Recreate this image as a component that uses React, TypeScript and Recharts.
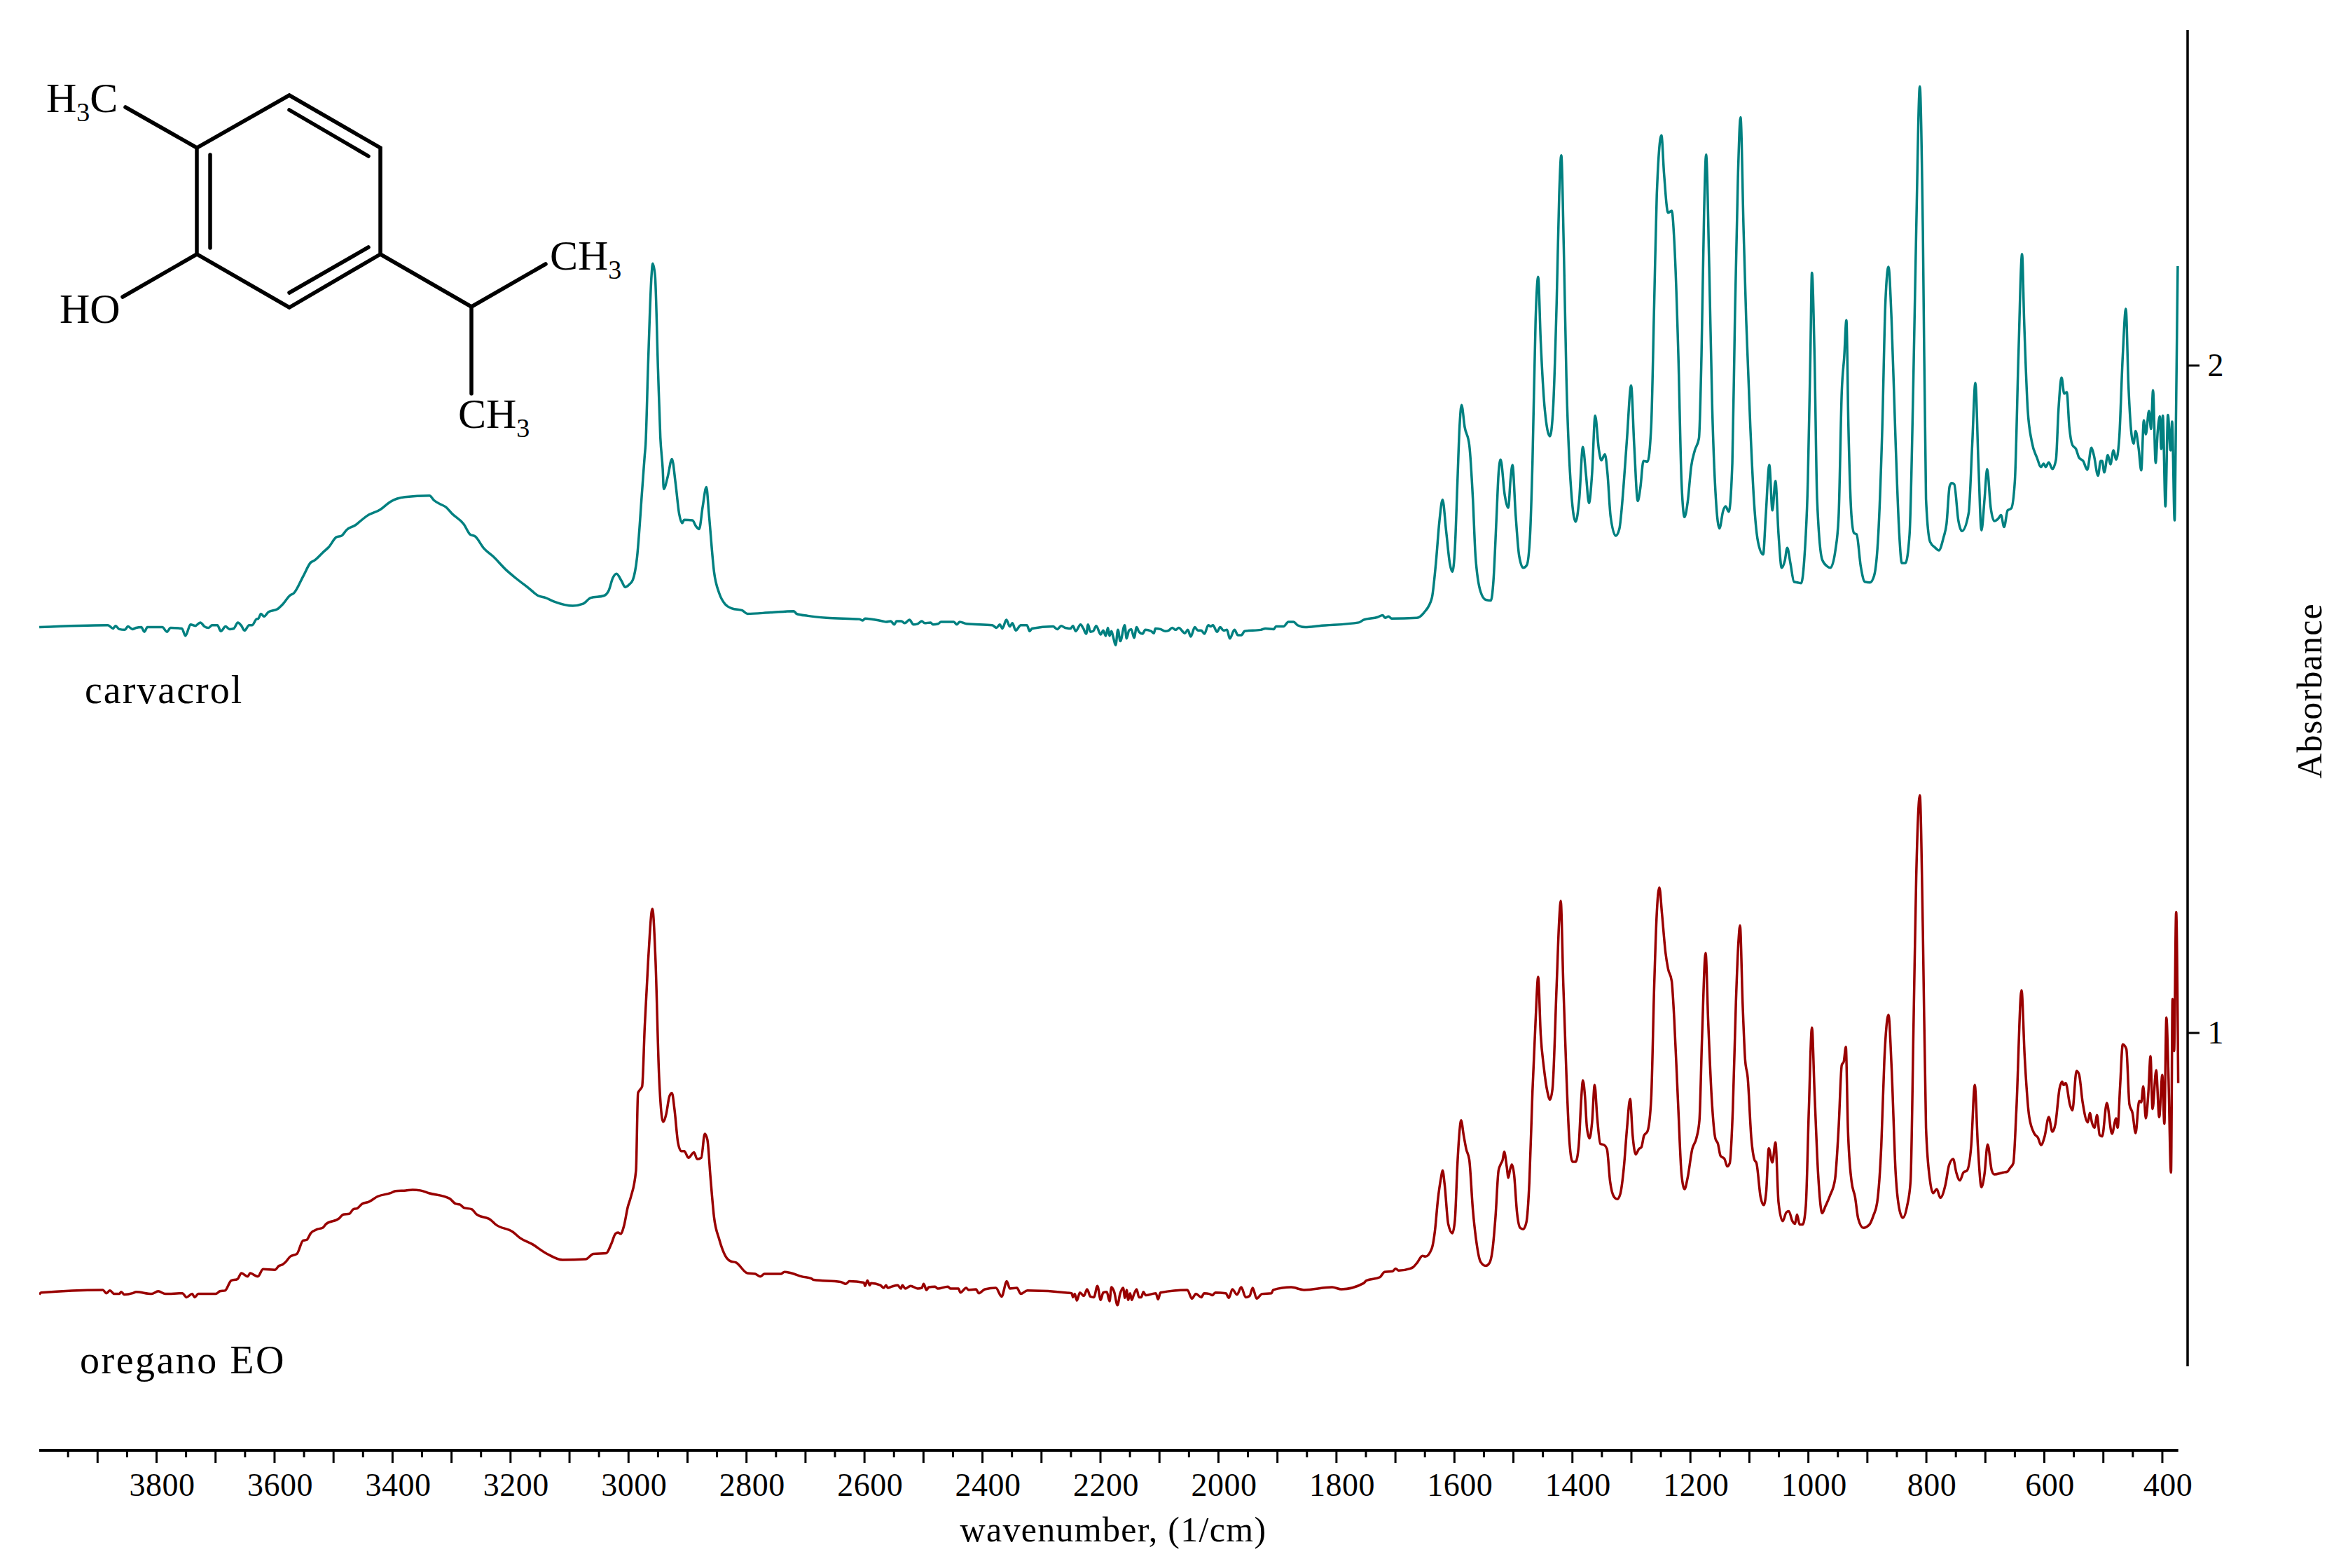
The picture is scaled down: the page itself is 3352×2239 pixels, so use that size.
import { LineChart, Line, XAxis, YAxis, ReferenceLine } from "recharts";

type Pt = [number, number];

// [wavenumber, absorbance]
const carvacrol: Pt[] = [
  [3998.8,1.608],[3882.5,1.611],[3873.8,1.606],[3869.5,1.610],[3863.4,1.605],[3853.8,1.604],[3848.6,1.609],[3840.7,1.605],
  [3834.6,1.607],[3825.9,1.608],[3820.7,1.601],[3815.5,1.608],[3790.2,1.608],[3782.4,1.601],[3776.3,1.607],[3757.1,1.606],
  [3751,1.595],[3742.4,1.612],[3734.5,1.610],[3725.8,1.615],[3718.8,1.609],[3711.9,1.607],[3705.8,1.611],[3697,1.611],
  [3691,1.602],[3683.1,1.609],[3676.2,1.605],[3669.2,1.606],[3662.2,1.615],[3656.1,1.610],[3650.9,1.603],[3643.1,1.611],
  [3637.8,1.611],[3630.9,1.620],[3627.4,1.621],[3623,1.628],[3617.8,1.624],[3610,1.631],[3595.2,1.635],[3586.5,1.642],
  [3573.4,1.656],[3567.3,1.659],[3551.6,1.684],[3538.6,1.705],[3532.5,1.708],[3516.8,1.721],[3508.1,1.728],[3495,1.743],
  [3486.3,1.745],[3477.6,1.754],[3462.8,1.761],[3453.2,1.768],[3442.8,1.775],[3421,1.784],[3403.6,1.796],[3379.2,1.803],
  [3337.4,1.805],[3329.6,1.798],[3318.3,1.792],[3309.5,1.788],[3299.1,1.778],[3279,1.762],[3268.6,1.747],[3260,1.744],
  [3245.1,1.726],[3229.4,1.714],[3207.7,1.694],[3190.3,1.681],[3168.5,1.666],[3152.8,1.655],[3140.6,1.652],[3125,1.646],
  [3094.5,1.640],[3077,1.643],[3064,1.652],[3042.2,1.655],[3033.5,1.663],[3026.5,1.682],[3020.4,1.688],[3011.7,1.677],
  [3005.6,1.668],[2998.7,1.672],[2992.6,1.679],[2985.6,1.712],[2976.9,1.813],[2972.5,1.866],[2971,1.882],[2967,1.995],
  [2961,2.135],[2959,2.153],[2955,2.135],[2950,1.995],[2946,1.892],[2942,1.845],[2940.3,1.815],[2933.4,1.834],
  [2926.4,1.860],[2920.3,1.824],[2914.2,1.778],[2909,1.764],[2905.5,1.769],[2891.6,1.768],[2885.5,1.759],[2880.3,1.755],
  [2874.2,1.789],[2868,1.818],[2863.7,1.778],[2855,1.691],[2846.3,1.659],[2835.8,1.642],[2824.5,1.636],[2807.1,1.633],
  [2798.4,1.628],[2759.3,1.630],[2719.7,1.632],[2715,1.628],[2696,1.625],[2664.3,1.622],[2608.9,1.620],[2603,1.618],
  [2599,1.621],[2569.3,1.617],[2563.4,1.616],[2555.5,1.617],[2549.5,1.612],[2545.6,1.617],[2537.7,1.617],[2531.7,1.614],
  [2523.8,1.619],[2517,1.612],[2510,1.613],[2502.8,1.617],[2498,1.614],[2488,1.615],[2484.2,1.612],[2475.1,1.613],
  [2470.4,1.616],[2448.6,1.616],[2443.4,1.612],[2438.7,1.616],[2426.8,1.613],[2383.3,1.611],[2376.2,1.607],[2370.6,1.612],
  [2366.3,1.606],[2359.5,1.619],[2353.6,1.609],[2349.3,1.614],[2343.7,1.603],[2335,1.611],[2324.7,1.611],[2320,1.602],
  [2316,1.606],[2280.4,1.609],[2273.3,1.605],[2266.5,1.610],[2259.8,1.607],[2250.7,1.606],[2246.7,1.610],[2242,1.602],
  [2233.7,1.612],[2229,1.606],[2224.2,1.598],[2221,1.612],[2217.1,1.601],[2212.3,1.602],[2207.2,1.610],[2199.6,1.597],
  [2195.3,1.603],[2191,1.595],[2187.4,1.607],[2184.6,1.595],[2181.4,1.602],[2178.3,1.593],[2174.3,1.581],[2170.4,1.604],
  [2166.4,1.587],[2158.9,1.611],[2155.7,1.591],[2151.7,1.603],[2147.8,1.605],[2143,1.592],[2138.7,1.608],[2134.7,1.601],
  [2128.8,1.598],[2124,1.604],[2114.1,1.602],[2109.4,1.599],[2107,1.606],[2098.3,1.605],[2090.4,1.602],[2084.5,1.603],
  [2078.5,1.607],[2072.6,1.604],[2067.4,1.607],[2056.8,1.599],[2052,1.604],[2046.9,1.594],[2040.1,1.608],[2035,1.603],
  [2029,1.603],[2023.9,1.598],[2017.2,1.611],[2013.2,1.609],[2009.3,1.611],[2002.5,1.601],[1997,1.608],[1991.4,1.603],
  [1985.5,1.604],[1980.8,1.591],[1972.8,1.604],[1966.9,1.596],[1961,1.596],[1955.8,1.602],[1928.1,1.604],[1920.2,1.606],
  [1906.4,1.605],[1902.4,1.609],[1889.7,1.609],[1881.4,1.616],[1872.7,1.616],[1866,1.611],[1852.9,1.608],[1829.2,1.610],
  [1762,1.615],[1754,1.619],[1730.2,1.623],[1721.5,1.626],[1717.6,1.622],[1711.6,1.624],[1706.5,1.621],[1663.7,1.622],
  [1651.4,1.630],[1638.4,1.651],[1631.4,1.704],[1625.3,1.768],[1620.1,1.799],[1614,1.752],[1607.9,1.704],[1603.5,1.691],
  [1599.2,1.725],[1594.8,1.827],[1591.3,1.908],[1587.9,1.941],[1582.6,1.908],[1574.8,1.881],[1568.7,1.800],[1564.3,1.715],
  [1555.6,1.661],[1546.9,1.649],[1538.2,1.648],[1533.9,1.677],[1528.6,1.774],[1525.2,1.838],[1521.7,1.859],[1514.7,1.806],
  [1508.6,1.787],[1505.1,1.827],[1501.6,1.851],[1496.4,1.779],[1490.3,1.715],[1483.4,1.697],[1477.3,1.701],[1472,1.742],
  [1467.7,1.854],[1462.4,2.068],[1458.1,2.133],[1453.7,2.036],[1446.8,1.934],[1438.1,1.894],[1432.8,1.934],[1426.7,2.095],
  [1422.4,2.255],[1418.9,2.315],[1414.6,2.175],[1410.2,1.982],[1403.2,1.827],[1394.5,1.766],[1388.4,1.800],[1382.3,1.878],
  [1377.1,1.838],[1371.9,1.794],[1366.7,1.838],[1361.4,1.925],[1355.3,1.875],[1351,1.858],[1344.9,1.867],[1340.5,1.838],
  [1335.3,1.774],[1326.6,1.745],[1320.5,1.755],[1313.5,1.817],[1307.4,1.892],[1300.5,1.970],[1295.3,1.881],[1289.2,1.797],
  [1284.8,1.817],[1279.6,1.857],[1272.6,1.856],[1266.5,1.908],[1261.3,2.095],[1257,2.255],[1249.1,2.345],[1244.7,2.288],
  [1237.8,2.229],[1231.7,2.232],[1227.3,2.186],[1220.4,2.015],[1215.1,1.827],[1209.9,1.773],[1204.7,1.795],[1198.6,1.849],
  [1192.5,1.873],[1185.5,1.891],[1181.2,2.015],[1176.8,2.229],[1173.4,2.316],[1168.1,2.148],[1162.9,1.934],[1156.8,1.800],
  [1150.7,1.756],[1144.6,1.782],[1140.3,1.789],[1135,1.781],[1128.9,1.854],[1124.6,2.068],[1119.4,2.282],[1115,2.372],
  [1109.8,2.202],[1105.4,2.068],[1098.4,1.908],[1092.4,1.800],[1085.4,1.736],[1076.7,1.717],[1072.3,1.774],[1066.2,1.851],
  [1061,1.783],[1055.8,1.827],[1050.6,1.747],[1045.3,1.697],[1040.1,1.707],[1035.8,1.727],[1030.5,1.704],[1024.4,1.676],
  [1018.3,1.675],[1012.2,1.674],[1007,1.709],[1000.9,1.827],[996.6,2.015],[994,2.139],[989.6,2.015],[985.2,1.800],
  [976.5,1.709],[967.8,1.699],[962.6,1.697],[953.9,1.725],[948.7,1.774],[943.4,1.961],[939.1,2.015],[935.6,2.068],
  [932.1,1.908],[926.9,1.774],[922.6,1.749],[918.2,1.747],[911.2,1.699],[904.3,1.676],[895.6,1.675],[888.6,1.685],
  [880.8,1.758],[874.7,1.908],[869.4,2.095],[864.2,2.148],[859,2.068],[852,1.881],[845.9,1.747],[841.6,1.704],
  [835.5,1.704],[828.5,1.747],[822.4,1.961],[817.2,2.202],[811.1,2.418],[805.9,2.202],[800.6,1.800],[793.7,1.736],
  [785,1.727],[778.9,1.723],[771,1.742],[765.8,1.763],[760.6,1.819],[757.1,1.824],[752.7,1.822],[745.8,1.768],
  [739.7,1.752],[728.3,1.779],[722.3,1.881],[717,1.974],[711.8,1.854],[706.6,1.753],[701.4,1.800],[697,1.845],
  [690.9,1.787],[684.8,1.767],[677.9,1.771],[673.5,1.776],[668.3,1.758],[662.2,1.783],[656.1,1.786],[650,1.827],
  [643.9,2.015],[637.8,2.167],[634.3,2.068],[628.2,1.934],[621.3,1.886],[612.6,1.862],[605.6,1.848],[601.2,1.853],
  [597.8,1.848],[592.5,1.855],[586.4,1.845],[580.3,1.859],[576,1.934],[570.8,1.982],[566.4,1.958],[562,1.960],
  [557.7,1.908],[552.5,1.881],[546.4,1.875],[541.2,1.862],[534.2,1.857],[527.2,1.844],[520.2,1.877],[515.9,1.865],
  [509,1.835],[504.6,1.857],[502,1.857],[498.5,1.840],[492.4,1.866],[488,1.852],[482.8,1.873],[478.4,1.859],
  [473.2,1.889],[467.1,2.015],[461.9,2.085],[457.5,1.972],[452.3,1.897],[448.8,1.883],[445.3,1.902],[440.1,1.875],
  [435.8,1.843],[431.4,1.918],[428,1.897],[422.7,1.932],[419.2,1.905],[415.8,1.963],[411.4,1.854],[407.9,1.901],
  [404.4,1.924],[401.8,1.875],[399.2,1.925],[394.8,1.789],[390.5,1.926],[386.1,1.873],[383.5,1.916],[379.2,1.768],
  [377.4,1.881],[373.9,2.149],
];

const oregano: Pt[] = [
  [3998.8,0.608],[3995.7,0.611],[3891.2,0.615],[3885.1,0.610],[3879,0.614],[3872,0.609],[3863.4,0.609],[3859.9,0.612],
  [3854.7,0.608],[3840.7,0.610],[3834.6,0.612],[3808.5,0.609],[3797.2,0.613],[3785,0.609],[3756.3,0.610],[3749.3,0.604],
  [3739.7,0.609],[3735.4,0.604],[3729.3,0.609],[3699.7,0.609],[3692.7,0.613],[3684,0.614],[3673.5,0.629],[3663.1,0.631],
  [3656.1,0.640],[3645.7,0.635],[3641.3,0.640],[3628.3,0.635],[3619.5,0.646],[3599.5,0.645],[3592.5,0.651],[3586.5,0.653],
  [3582.1,0.656],[3573.4,0.665],[3562.1,0.669],[3551.6,0.689],[3545.5,0.690],[3538.6,0.700],[3527.2,0.706],[3518.5,0.708],
  [3512.4,0.714],[3490.7,0.722],[3483.7,0.728],[3473.3,0.729],[3466.3,0.736],[3460.2,0.737],[3451.5,0.744],[3440.2,0.747],
  [3425.4,0.755],[3403.6,0.760],[3394.9,0.763],[3377.5,0.764],[3366.1,0.765],[3353.1,0.764],[3338.3,0.760],[3303.4,0.752],
  [3293,0.744],[3286,0.743],[3279,0.738],[3266,0.736],[3257.3,0.728],[3233.8,0.720],[3225.1,0.713],[3196.3,0.702],
  [3184.1,0.693],[3164.1,0.684],[3138,0.669],[3111.9,0.660],[3072.7,0.661],[3059.6,0.669],[3037.9,0.670],[3029.2,0.684],
  [3022.2,0.699],[3017.8,0.701],[3013.5,0.699],[3007.4,0.712],[3001.3,0.739],[2996.1,0.754],[2987.3,0.794],[2983.9,0.910],
  [2981.3,0.914],[2976.9,0.920],[2972.5,1.010],[2966.5,1.111],[2959.5,1.186],[2954.3,1.111],[2948.2,0.935],[2941.2,0.867],
  [2936,0.879],[2930.7,0.905],[2926.4,0.910],[2922,0.885],[2916,0.835],[2910.7,0.823],[2905.5,0.823],[2898.5,0.813],
  [2889,0.821],[2883.7,0.811],[2876.7,0.813],[2870.7,0.849],[2866.3,0.840],[2861.1,0.784],[2855,0.724],[2846.3,0.691],
  [2835.8,0.666],[2827.1,0.658],[2817.6,0.656],[2798.4,0.640],[2785.3,0.639],[2776.6,0.635],[2769.6,0.639],[2741.8,0.639],
  [2735.7,0.642],[2723.7,0.640],[2705.9,0.635],[2690,0.632],[2686.1,0.630],[2640.6,0.627],[2631.5,0.624],[2625.5,0.628],
  [2601,0.626],[2599,0.621],[2595,0.629],[2591.1,0.622],[2589.1,0.625],[2573.3,0.622],[2567.3,0.618],[2563.4,0.622],
  [2560.6,0.618],[2553.5,0.620],[2543.6,0.622],[2538.4,0.617],[2535.7,0.622],[2530.9,0.617],[2521.8,0.621],[2510,0.617],
  [2502.8,0.618],[2499.7,0.624],[2494.9,0.615],[2491,0.619],[2480.3,0.620],[2476,0.617],[2458.5,0.620],[2454.5,0.617],
  [2440.7,0.617],[2437.5,0.611],[2427.6,0.618],[2423.7,0.615],[2411,0.616],[2406.2,0.610],[2395.9,0.616],[2377.3,0.618],
  [2367.5,0.605],[2358.8,0.628],[2353.6,0.617],[2341.7,0.618],[2335,0.609],[2323.9,0.614],[2248.7,0.610],[2246.7,0.604],
  [2243.6,0.609],[2240,0.599],[2234.9,0.611],[2228.1,0.606],[2222.6,0.616],[2217.1,0.605],[2211.1,0.604],[2205.2,0.621],
  [2199.6,0.600],[2195.3,0.611],[2189.3,0.612],[2184.6,0.598],[2181.4,0.619],[2176.7,0.612],[2171.2,0.592],[2166.8,0.609],
  [2161.6,0.618],[2158.5,0.603],[2155.7,0.615],[2152.9,0.600],[2149.8,0.610],[2147,0.600],[2143.8,0.607],[2138.7,0.616],
  [2134.7,0.604],[2130.8,0.604],[2127.2,0.612],[2123.2,0.607],[2106.2,0.610],[2102.3,0.601],[2098.3,0.611],[2052.8,0.615],
  [2044.9,0.602],[2038.2,0.609],[2029,0.604],[2024.3,0.610],[2015.2,0.609],[2010.4,0.607],[2005.3,0.611],[1987.5,0.610],
  [1982.3,0.603],[1976.4,0.616],[1968.5,0.608],[1961.4,0.619],[1953.8,0.604],[1947.1,0.606],[1942,0.618],[1935.2,0.602],
  [1926.1,0.609],[1910.3,0.610],[1907.1,0.615],[1876.7,0.619],[1854.9,0.615],[1807.4,0.619],[1791.6,0.616],[1754,0.625],
  [1749.2,0.629],[1726.3,0.634],[1718.4,0.642],[1704.5,0.643],[1699.8,0.647],[1694.6,0.644],[1674.8,0.647],[1670.1,0.649],
  [1662.9,0.656],[1654.2,0.666],[1649.1,0.665],[1638.4,0.677],[1633.1,0.703],[1627.9,0.751],[1622.7,0.783],[1620.1,0.794],
  [1616.6,0.773],[1610.5,0.714],[1603.5,0.700],[1599.2,0.719],[1594.8,0.805],[1591.3,0.853],[1588.7,0.869],[1584.4,0.847],
  [1580,0.826],[1574.8,0.810],[1568.7,0.735],[1563.5,0.692],[1555.6,0.657],[1546.9,0.651],[1540.8,0.655],[1535.6,0.674],
  [1530.4,0.724],[1525.2,0.794],[1521.7,0.803],[1518.2,0.810],[1515.6,0.822],[1511.2,0.799],[1508.6,0.783],[1506,0.794],
  [1502.5,0.803],[1499,0.789],[1493.8,0.730],[1488.6,0.708],[1483.4,0.706],[1478.1,0.716],[1472.9,0.778],[1467.7,0.912],
  [1462.4,1.019],[1458.1,1.084],[1453.7,0.997],[1448.5,0.949],[1442.4,0.912],[1438.1,0.900],[1433.7,0.917],[1426.7,1.072],
  [1422.4,1.169],[1419.8,1.198],[1415.4,1.072],[1410.2,0.938],[1405,0.837],[1399.8,0.807],[1394.5,0.807],[1389.3,0.831],
  [1385,0.901],[1382.3,0.929],[1378.8,0.906],[1375.4,0.858],[1371,0.842],[1366.7,0.866],[1362.3,0.922],[1358,0.874],
  [1352.7,0.834],[1345.8,0.832],[1341.4,0.826],[1336.2,0.778],[1329.2,0.754],[1324,0.751],[1318.8,0.759],[1312.7,0.799],
  [1307.4,0.858],[1302.2,0.901],[1297.9,0.847],[1292.6,0.818],[1287.4,0.826],[1283,0.829],[1278.7,0.846],[1272.6,0.853],
  [1266.5,0.901],[1261.3,1.072],[1257,1.179],[1252.6,1.218],[1248.2,1.179],[1242.1,1.120],[1237.8,1.096],[1231.7,1.078],
  [1227.3,1.019],[1220.4,0.885],[1215.1,0.789],[1209.9,0.766],[1204.7,0.783],[1196.9,0.826],[1189.9,0.842],[1184.7,0.869],
  [1180.3,0.992],[1174.2,1.120],[1169.9,1.019],[1163.8,0.901],[1157.7,0.842],[1153.3,0.834],[1149,0.816],[1142,0.811],
  [1137.6,0.800],[1133.3,0.805],[1128.1,0.885],[1122.8,1.046],[1118.5,1.137],[1115.9,1.161],[1111.5,1.046],[1107.2,0.960],
  [1102.8,0.933],[1096.7,0.842],[1091.5,0.810],[1088,0.805],[1081,0.754],[1075.8,0.742],[1071.5,0.762],[1067.1,0.827],
  [1061,0.806],[1055.8,0.836],[1050.6,0.746],[1043.6,0.718],[1037.5,0.731],[1033.2,0.733],[1027.1,0.718],[1022.7,0.714],
  [1019.2,0.728],[1014.9,0.713],[1009.6,0.713],[1004.4,0.740],[999.2,0.885],[994,1.008],[989.6,0.912],[983.5,0.789],
  [976.5,0.730],[971.3,0.740],[963.5,0.756],[954.8,0.781],[948.7,0.858],[943.4,0.952],[940,0.957],[936.5,0.979],
  [933,0.858],[926.9,0.778],[920.8,0.754],[915.6,0.722],[906.9,0.708],[896.4,0.713],[889.5,0.727],[883.4,0.746],
  [876.4,0.831],[871.2,0.960],[864.2,1.027],[859,0.949],[852,0.789],[844.2,0.730],[839.8,0.723],[832.8,0.740],
  [826.8,0.778],[821.6,1.019],[817.2,1.233],[811.1,1.356],[805.9,1.153],[800.6,0.858],[793.7,0.778],[788.5,0.760],
  [782.4,0.766],[776.3,0.753],[767.6,0.773],[761.5,0.802],[754.5,0.811],[749.3,0.791],[743.2,0.779],[737.1,0.791],
  [731,0.794],[724,0.831],[717.9,0.922],[712.7,0.831],[706.6,0.769],[701.4,0.789],[696.2,0.833],[689.2,0.794],
  [684.8,0.788],[670,0.791],[663,0.792],[657.9,0.798],[652.6,0.805],[647.4,0.885],[638.7,1.064],[633.4,0.965],
  [625.6,0.874],[616.9,0.849],[610.8,0.843],[605.6,0.832],[599.5,0.845],[592.5,0.874],[586.4,0.852],[581.2,0.864],
  [574.2,0.917],[569.9,0.927],[567.3,0.922],[563.8,0.925],[556.8,0.893],[552.5,0.884],[545.5,0.943],[541.2,0.938],
  [535.1,0.896],[526.3,0.866],[522.9,0.880],[519.4,0.866],[515,0.858],[510.7,0.877],[506.3,0.847],[502,0.845],
  [494.1,0.895],[485.4,0.849],[478.4,0.872],[475.8,0.858],[471.5,0.922],[467.1,0.983],[461,0.976],[455.8,0.893],
  [450.6,0.880],[445.3,0.850],[439.3,0.898],[435.8,0.896],[432.3,0.920],[428,0.872],[423.6,0.912],[420.1,0.965],
  [416.6,0.886],[410.5,0.944],[405.3,0.874],[400.1,0.937],[396.6,0.864],[393.1,1.023],[389.7,0.938],[385.3,0.791],
  [382.7,1.051],[380.1,0.973],[376.6,1.181],[373.1,0.925],
];

const xTicks = [
  3950,3900,3850,3800,3750,3700,3650,3600,3550,3500,3450,3400,3350,3300,3250,3200,3150,3100,
  3050,3000,2950,2900,2850,2800,2750,2700,2650,2600,2550,2500,2450,2400,2350,2300,2250,2200,
  2150,2100,2050,2000,1950,1900,1850,1800,1750,1700,1650,1600,1550,1500,1450,1400,1350,1300,
  1250,1200,1150,1100,1050,1000,950,900,850,800,750,700,650,600,550,500,450,400,
];
const yTicks = [1, 2];

const carvacrolData = carvacrol.map(([wn, abs]) => ({ wn, abs }));
const oreganoData = oregano.map(([wn, abs]) => ({ wn, abs }));

const xDomain: [number, number] = [357.2, 3998.9];
const yDomain: [number, number] = [0.3746, 2.5026];
const serif = "'Liberation Serif', serif";

function XTick({ x, y, payload }: any) {
  const v = payload.value;
  const len = v % 100 === 0 ? 18 : 10;
  return (
    <g>
      <line x1={x} x2={x} y1={y} y2={y + len} stroke="#000" strokeWidth={3} />
      {v % 200 === 0 && (
        <text x={x + 8} y={y + 65} textAnchor="middle" fontFamily={serif} fontSize={46} letterSpacing={0.5} fill="#000">
          {v}
        </text>
      )}
    </g>
  );
}

function YTick({ x, y, payload }: any) {
  return (
    <g>
      <line x1={x} x2={x + 17} y1={y} y2={y} stroke="#000" strokeWidth={3} />
      <text x={x + 40} y={y + 15} textAnchor="middle" fontFamily={serif} fontSize={46} fill="#000">
        {payload.value}
      </text>
    </g>
  );
}

function Formula({ x, y, parts }: { x: number; y: number; parts: [string, boolean][] }) {
  return (
    <text x={x} y={y} fontFamily={serif} fontSize={60} fill="#000">
      {parts.map(([s, sub], i) => (
        <tspan key={i} fontSize={sub ? 38 : 60} dy={i === 0 ? 0 : sub ? 13 : parts[i - 1][1] ? -13 : 0}>
          {s}
        </tspan>
      ))}
    </text>
  );
}

function Molecule() {
  return (
    <svg
      width={3352}
      height={2239}
      style={{ position: "absolute", left: 0, top: 0, pointerEvents: "none" }}
    >
      <g stroke="#000" strokeWidth={5.5} strokeLinecap="round" strokeLinejoin="miter" fill="none">
        <polygon points="413,136 543,211 543,363 413,439 281,363 281,211" />
        <line x1={300} y1={221} x2={300} y2={354} />
        <line x1={413} y1={157} x2={526} y2={223} />
        <line x1={526} y1={353} x2={413} y2={418} />
        <line x1={281} y1={211} x2={179} y2={153} />
        <line x1={281} y1={363} x2={175} y2={424} />
        <line x1={543} y1={363} x2={673} y2={438} />
        <line x1={673} y1={438} x2={779} y2={377} />
        <line x1={673} y1={438} x2={673} y2={562} />
      </g>
      <Formula x={66} y={160} parts={[["H", false], ["3", true], ["C", false]]} />
      <Formula x={85} y={461} parts={[["HO", false]]} />
      <Formula x={785} y={385} parts={[["CH", false], ["3", true]]} />
      <Formula x={654} y={611} parts={[["CH", false], ["3", true]]} />
      <text x={121} y={1004} fontFamily={serif} fontSize={56} letterSpacing={2} fill="#000">
        carvacrol
      </text>
      <text x={114} y={1961} fontFamily={serif} fontSize={56} letterSpacing={2.5} fill="#000">
        oregano EO
      </text>
    </svg>
  );
}

export default function App() {
  return (
    <div style={{ position: "absolute", left: 0, top: 0, width: 3352, height: 2239, background: "#fff" }}>
      <LineChart width={3352} height={2239} margin={{ top: 43, right: 0, bottom: 0, left: 56 }}>
        <XAxis
          dataKey="wn"
          type="number"
          reversed
          domain={xDomain}
          allowDataOverflow
          ticks={xTicks}
          interval={0}
          height={168}
          axisLine={false}
          tickLine={false}
          tickSize={0}
          tickMargin={0}
          tick={<XTick />}
          label={{
            value: "wavenumber, (1/cm)",
            position: "insideBottom",
            offset: 38,
            fontFamily: serif,
            fontSize: 50,
            letterSpacing: 1.3,
            fill: "#000",
          }}
        />
        <YAxis
          orientation="right"
          type="number"
          domain={yDomain}
          allowDataOverflow
          ticks={yTicks}
          interval={0}
          width={229}
          axisLine={false}
          tickLine={false}
          tickSize={0}
          tickMargin={0}
          tick={<YTick />}
          label={{
            value: "Absorbance",
            angle: -90,
            position: "insideRight",
            offset: 56,
            dy: -196,
            fontFamily: serif,
            fontSize: 50,
            letterSpacing: 1.2,
            fill: "#000",
          }}
        />
        <ReferenceLine
          segment={[{ x: xDomain[1], y: yDomain[0] }, { x: 373, y: yDomain[0] }]}
          stroke="#000"
          strokeWidth={4}
        />
        <ReferenceLine
          segment={[{ x: xDomain[0], y: 0.5005 }, { x: xDomain[0], y: yDomain[1] }]}
          stroke="#000"
          strokeWidth={3.5}
        />
        <Line
          data={carvacrolData}
          dataKey="abs"
          type="monotone"
          stroke="#008080"
          strokeWidth={3.5}
          dot={false}
          activeDot={false}
          isAnimationActive={false}
        />
        <Line
          data={oreganoData}
          dataKey="abs"
          type="monotone"
          stroke="#990000"
          strokeWidth={3.5}
          dot={false}
          activeDot={false}
          isAnimationActive={false}
        />
      </LineChart>
      <Molecule />
    </div>
  );
}
